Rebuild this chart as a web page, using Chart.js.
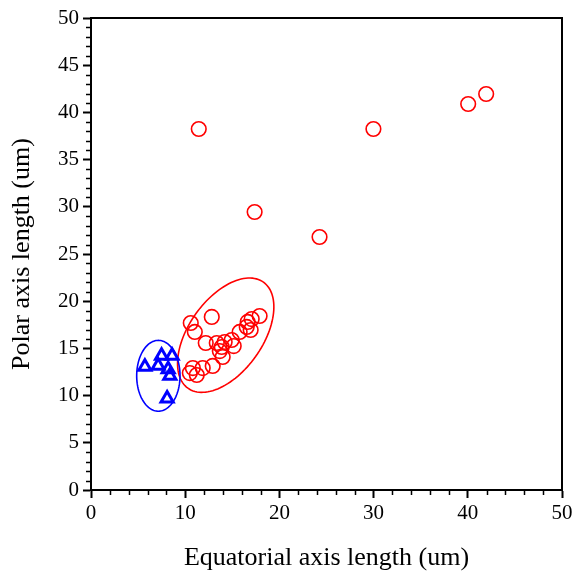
<!DOCTYPE html>
<html lang="en">
<head>
<meta charset="UTF-8">
<title>Polar vs equatorial axis length</title>
<script src="https://cdn.jsdelivr.net/npm/chart.js"></script>
<style>body{margin:0;background:#fff}</style>
</head>
<body>
<canvas id="axisChart" width="572" height="573"></canvas>
<script>
// red circles (equatorial, polar)
const redX = [11.44, 29.98, 40.04, 41.95, 17.37, 24.26,
              12.82, 10.59, 11.02, 12.18, 13.35, 13.88, 13.67, 14.19, 14.94, 15.15, 15.78,
              16.53, 16.63, 17.06, 17.90, 16.95, 13.98, 12.92, 11.86, 10.81, 10.49, 11.23];
const redY = [38.24, 38.24, 40.89, 41.95, 29.45, 26.80,
              18.33, 17.69, 16.74, 15.57, 15.57, 15.15, 14.72, 15.68, 15.89, 15.25, 16.74,
              17.27, 17.80, 18.11, 18.43, 16.95, 14.09, 13.14, 12.92, 12.92, 12.39, 12.18];
// blue triangles
const blueX = [5.72, 7.49, 8.61, 7.13, 8.19, 8.37, 8.08];
const blueY = [13.06, 14.23, 14.23, 13.17, 12.79, 12.11, 9.70];

// ellipses: center x, center y, semi-axis a, semi-axis b, angle (deg)
const redEllipse = [14.3, 16.4, 6.9, 3.9, 54.5];
const blueEllipse = [7.15, 12.1, 2.3, 3.75, 0];

const xMinorStep = 2;
const yMinorStep = 1;

const serif = "'Liberation Serif', 'Times New Roman', serif";

function toPoints(xs, ys) {
    return xs.map((x, i) => ({x: x, y: ys[i]}));
}

const extras = {
    id: 'extras',
    beforeDatasetsDraw(chart) {
        const ctx = chart.ctx;
        const xs = chart.scales.x, ys = chart.scales.y;
        [[redEllipse, '#ff0000'], [blueEllipse, '#0000ff']].forEach(([e, col]) => {
            const [cx, cy, a, b, ang] = e;
            const r = ang * Math.PI / 180;
            ctx.save();
            ctx.beginPath();
            for (let k = 0; k <= 120; k++) {
                const t = k / 120 * Math.PI * 2;
                const dx = a * Math.cos(t), dy = b * Math.sin(t);
                const px = xs.getPixelForValue(cx + dx * Math.cos(r) - dy * Math.sin(r));
                const py = ys.getPixelForValue(cy + dx * Math.sin(r) + dy * Math.cos(r));
                if (k === 0) ctx.moveTo(px, py); else ctx.lineTo(px, py);
            }
            ctx.strokeStyle = col;
            ctx.lineWidth = 1.6;
            ctx.stroke();
            ctx.restore();
        });
    },
    afterDraw(chart) {
        const ctx = chart.ctx;
        const {left, right, top, bottom} = chart.chartArea;
        const xs = chart.scales.x, ys = chart.scales.y;
        ctx.save();
        ctx.strokeStyle = '#000';
        ctx.lineWidth = 2;
        ctx.beginPath();
        ctx.moveTo(left, top);
        ctx.lineTo(right, top);
        ctx.lineTo(right, bottom);
        ctx.stroke();
        // minor ticks
        ctx.lineWidth = 1.5;
        ctx.beginPath();
        for (let v = xs.min; v <= xs.max; v += xMinorStep) {
            if (v % 10 === 0) continue;
            const px = Math.round(xs.getPixelForValue(v)) + 0.5;
            ctx.moveTo(px, bottom);
            ctx.lineTo(px, bottom + 5);
        }
        for (let v = ys.min; v <= ys.max; v += yMinorStep) {
            if (v % 5 === 0) continue;
            const py = Math.round(ys.getPixelForValue(v)) + 0.5;
            ctx.moveTo(left, py);
            ctx.lineTo(left - 5, py);
        }
        ctx.stroke();
        ctx.restore();
    }
};

new Chart(document.getElementById('axisChart').getContext('2d'), {
    type: 'scatter',
    data: {
        datasets: [
            {
                label: 'circles',
                data: toPoints(redX, redY),
                pointStyle: 'circle',
                pointRadius: 7.3,
                borderColor: '#ff0000',
                backgroundColor: 'rgba(0,0,0,0)',
                borderWidth: 1.6
            },
            {
                label: 'triangles',
                data: toPoints(blueX, blueY),
                pointStyle: 'triangle',
                pointRadius: 7,
                borderColor: '#0000ff',
                backgroundColor: 'rgba(0,0,0,0)',
                borderWidth: 3
            }
        ]
    },
    options: {
        responsive: false,
        animation: false,
        events: [],
        layout: { padding: { left: 0, right: 9, top: 18, bottom: 0 } },
        plugins: { legend: { display: false }, tooltip: { enabled: false } },
        scales: {
            x: {
                type: 'linear',
                min: 0, max: 50,
                afterFit(s) { s.height = 83; s.paddingLeft = 0; s.paddingRight = 0; },
                ticks: { stepSize: 10, color: '#000', padding: 3, font: { family: serif, size: 21 } },
                grid: { drawOnChartArea: false, tickLength: 8, tickWidth: 2, tickColor: '#000' },
                border: { display: true, color: '#000', width: 2 },
                title: { display: true, text: 'Equatorial axis length (um)', color: '#000',
                         padding: { top: 0, bottom: -1 }, font: { family: serif, size: 26 } }
            },
            y: {
                type: 'linear',
                min: 0, max: 50,
                afterFit(s) { s.width = 91; s.paddingTop = 0; s.paddingBottom = 0; },
                ticks: { stepSize: 5, color: '#000', padding: 4, font: { family: serif, size: 21 } },
                grid: { drawOnChartArea: false, tickLength: 8, tickWidth: 2, tickColor: '#000' },
                border: { display: true, color: '#000', width: 2 },
                title: { display: true, text: 'Polar axis length (um)', color: '#000',
                         padding: { top: 7, bottom: 0 }, font: { family: serif, size: 26 } }
            }
        }
    },
    plugins: [extras]
});
</script>
</body>
</html>
